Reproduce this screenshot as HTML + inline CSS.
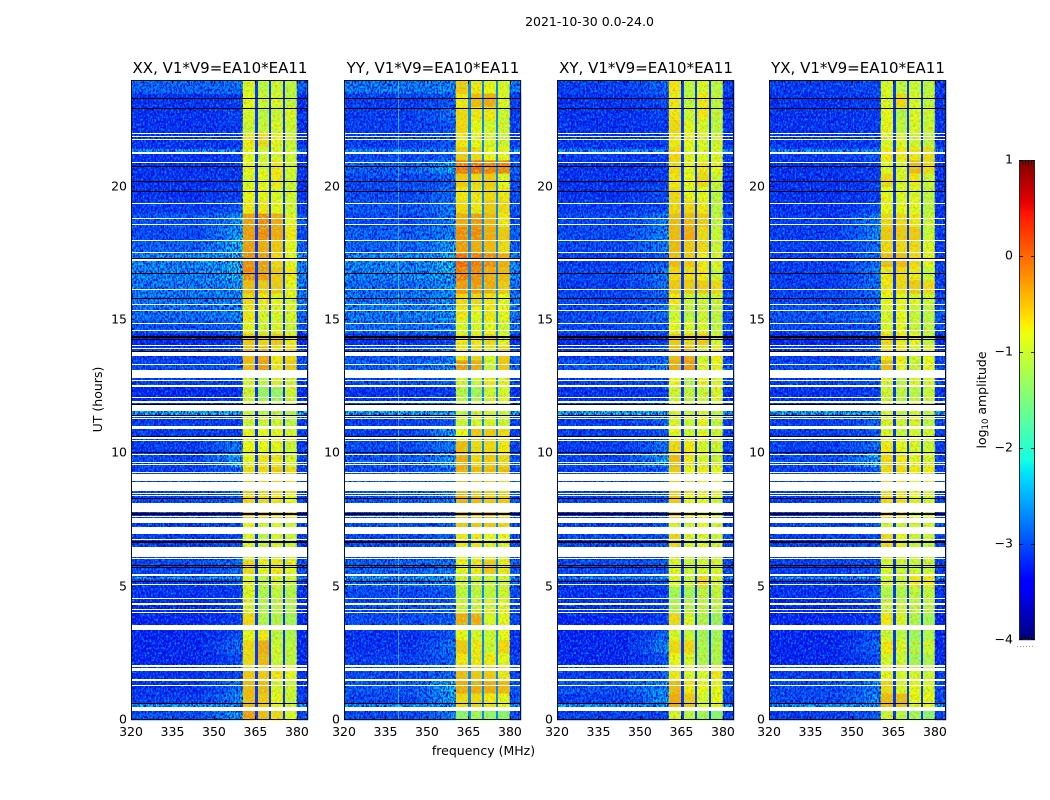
<!DOCTYPE html>
<html lang="en">
<head>
<meta charset="utf-8">
<title>2021-10-30 0.0-24.0</title>
<style>
html,body{margin:0;padding:0;background:#fff;width:1050px;height:800px;overflow:hidden}
svg{display:block}
text{font-family:"DejaVu Sans","Liberation Sans",sans-serif;fill:#000}
</style>
</head>
<body>
<svg id="figure" xmlns="http://www.w3.org/2000/svg" width="1050" height="800" viewBox="0 0 1050 800">
  <defs>
    <filter id="speckle-dark" x="0" y="0" width="1" height="1" color-interpolation-filters="sRGB">
      <feTurbulence type="fractalNoise" baseFrequency=".62 .38" numOctaves="2" seed="4"/>
      <feColorMatrix type="matrix" values="0 0 0 0 0  0 0 0 0 0  0 0 0 0 .82  3.6 0 0 0 -1.35"/>
    </filter>
    <filter id="speckle-light" x="0" y="0" width="1" height="1" color-interpolation-filters="sRGB">
      <feTurbulence type="fractalNoise" baseFrequency=".6 .42" numOctaves="2" seed="11"/>
      <feColorMatrix type="matrix" values="0 0 0 0 0  0 0 0 0 .62  0 0 0 0 1  0 3.2 0 0 -1.55"/>
    </filter>
    <filter id="speckle-warm" x="0" y="0" width="1" height="1" color-interpolation-filters="sRGB">
      <feTurbulence type="fractalNoise" baseFrequency=".45 .4" numOctaves="2" seed="7"/>
      <feColorMatrix type="matrix" values="0 0 0 0 1  0 0 0 0 .62  0 0 0 0 0  2.6 0 0 0 -1.25"/>
    </filter>
    <filter id="speckle-cool" x="0" y="0" width="1" height="1" color-interpolation-filters="sRGB">
      <feTurbulence type="fractalNoise" baseFrequency=".45 .4" numOctaves="2" seed="21"/>
      <feColorMatrix type="matrix" values="0 0 0 0 .45  0 0 0 0 1  0 0 0 0 .45  0 2.6 0 0 -1.25"/>
    </filter>
  </defs>
  <rect x="0" y="0" width="1050" height="800" fill="#fff"/>
  <text x="589.5" y="26" font-size="12.5" text-anchor="middle">2021-10-30 0.0-24.0</text>
  <text x="483.5" y="755" font-size="12.5" text-anchor="middle">frequency (MHz)</text>
  <text transform="translate(102,399.5) rotate(-90)" font-size="12.5" text-anchor="middle">UT (hours)</text>
  <text transform="translate(986,400) rotate(-90)" font-size="12.5" text-anchor="middle">log<tspan font-size="8.5" dy="2">10</tspan><tspan dy="-2"> amplitude</tspan></text>
  <g id="panels"></g>
  <g id="colorbar"></g>
</svg>
<script>
// ---- chart data ----
const panelTitles = ["XX, V1*V9=EA10*EA11", "YY, V1*V9=EA10*EA11", "XY, V1*V9=EA10*EA11", "YX, V1*V9=EA10*EA11"];
const freqTicks = [320, 335, 350, 365, 380];
const utTicks = [0, 5, 10, 15, 20];
const colorbarTicks = [1, 0, -1, -2, -3, -4];
const notchLevels = [-3.1, -2.7, -3.1, -3.1];
const bandEdges = [360.4, 364.9, 365.5, 370, 370.4, 374.9, 375.5, 380];

// log10 amplitude per half-hour of UT, bottom to top:
// [background, edge 357-360 MHz, sub-band 1, sub-band 2, sub-band 3, sub-band 4]
const xxLevels = [
[-2.9,-2.3,-.2,-.4,-.6,-.9],[-3,-2.4,-.4,-.5,-.8,-1],[-3.1,-2.6,-.4,-.4,-.9,-1],[-3.1,-2.9,-.5,-.5,-.7,-.8],
[-3.2,-2.9,-.6,-.4,-1,-1.1],[-3.2,-2.6,-.6,-.3,-1,-1.1],[-3.2,-2.9,-.8,-.7,-1.1,-1.2],[-3.2,-3,-.6,-1.2,-1.2,-1.3],
[-3.2,-3,-.9,-1.2,-1.1,-1.2],[-3.1,-3,-.9,-1.2,-1.1,-1.2],[-3,-2.8,-.8,-1.1,-.9,-1],[-2.9,-2.6,-.6,-.8,-.7,-.8],
[-3,-2.8,-1,-1,-1,-1],[-3,-2.9,-.9,-1.1,-.9,-1],[-3,-2.8,-.8,-1,-.9,-1],[-3,-2.8,-.5,-.5,-.6,-.7],
[-2.9,-2.7,-.6,-.6,-.7,-.8],[-3,-2.6,-.5,-.6,-.6,-.7],[-3,-2.7,-.6,-.6,-.5,-.6],[-2.9,-2.2,-.8,-.7,-.7,-.9],
[-3,-2.5,-.8,-.8,-.8,-1],[-3,-3,-.8,-.8,-.8,-.9],[-3,-3,-1,-1,-1,-1.1],[-3.1,-3,-1,-1.1,-1.2,-1.2],
[-3.2,-3.1,-1,-1.4,-1.4,-1],[-3,-3,-.9,-1.1,-.9,-1],[-2.9,-2.8,-.4,-.2,-.7,-.5],[-3,-2.8,-.4,-.3,-.7,-.6],
[-3.2,-3,-.5,-.6,-.5,-.7],[-2.8,-2.7,-.8,-1,-.9,-1],[-2.6,-2.4,-.7,-.9,-.9,-.9],[-2.5,-2.4,-.6,-.7,-.8,-.9],
[-2.5,-2.3,-.4,-.5,-.5,-.8],[-2.4,-2.1,-.1,-.2,-.5,-.7],[-2.4,-2,-.1,-.2,-.6,-.8],[-2.7,-2.1,-.2,-.3,-.5,-.8],
[-2.9,-2.2,-.2,-.1,-.3,-.7],[-2.8,-2.3,-.2,-.1,-.3,-.8],[-3,-2.8,-.7,-.7,-.8,-1],[-3.1,-3,-.8,-.8,-.9,-1],
[-3.1,-3,-.9,-.8,-.7,-1],[-3.1,-3,-.8,-.9,-.7,-.9],[-3.1,-3,-.8,-1,-.9,-1],[-3.1,-3,-.7,-.6,-.8,-1],
[-3.1,-3,-1,-1,-.9,-1],[-3.1,-3,-.9,-1.1,-1,-.9],[-3.1,-3,-.8,-1,-.9,-1.1],[-2.7,-2.6,-.9,-1.1,-1,-1.1]];
const yyLevels = [
[-2.9,-2.5,-1.5,-1.3,-1.4,-1.5],[-2.9,-2.2,-.6,-.6,-.7,-.8],[-2.8,-2.1,-.3,-.3,-.3,-.4],[-2.9,-2.6,-.4,-.5,-.5,-.7],
[-3,-2.7,-.7,-.7,-.7,-.8],[-3.1,-2.6,-.5,-.7,-1,-.6],[-3.1,-2.8,-.8,-.9,-1,-.8],[-2.9,-2.7,-.3,-.3,-.9,-.8],
[-2.9,-2.7,-1,-1,-.9,-.8],[-2.9,-2.8,-1.1,-1.1,-1.1,-1],[-2.6,-2.4,-1,-1,-1,-1],[-2.7,-2.5,-.8,-.7,-.5,-.7],
[-2.9,-2.8,-.9,-.9,-.9,-1],[-2.9,-2.7,-.7,-.7,-.8,-.8],[-2.9,-2.7,-.5,-.5,-.5,-.6],[-2.8,-2.5,-.4,-.5,-.4,-.6],
[-2.8,-2.5,-.3,-.4,-.5,-.5],[-2.8,-2.6,-.4,-.5,-.5,-.6],[-2.9,-2.6,-.3,-.4,-.4,-.4],[-2.8,-2.3,-.3,-.6,-.5,-.6],
[-2.9,-2.5,-.4,-.6,-.6,-.7],[-3,-2.2,-.8,-.5,-.5,-.6],[-3,-2.8,-1,-.9,-.9,-1],[-2.9,-2.7,-1.1,-1,-.9,-1],
[-3.1,-3,-1.2,-1.3,-1,-.9],[-2.9,-2.8,-1,-1,-.7,-.9],[-2.7,-2.3,-.2,-.3,-1,-.5],[-2.8,-2.5,-.7,-.6,-.9,-.5],
[-3.1,-2.9,-.7,-.7,-.6,-.8],[-2.6,-2.5,-.9,-.9,-.8,-1],[-2.5,-2.3,-.7,-.8,-.7,-.8],[-2.5,-2.3,-.6,-.6,-.7,-.8],
[-2.6,-2.3,-.2,-.2,-.3,-.5],[-2.4,-2.1,0,-.1,-.3,-.4],[-2.4,-2.1,.1,0,-.1,-.3],[-2.7,-2.2,-.2,-.3,-.4,-.6],
[-2.7,-2.4,-.1,-.1,-.3,-.5],[-2.9,-2.5,-.3,-.2,-.4,-.7],[-2.8,-2.5,-.6,-.7,-.5,-.6],[-2.9,-2.6,-.7,-.7,-.6,-.7],
[-2.9,-2.7,-.5,-.6,-.5,-.8],[-2.7,-2.2,0,.05,-.05,-.05],[-2.9,-2.7,-.5,-.6,-.8,-.8],[-3,-2.8,-.7,-.8,-.9,-1],
[-3,-2.8,-.6,-.8,-.9,-1],[-3,-2.6,-.6,-.7,-.7,-1],[-3,-2.8,-.7,-.4,-.3,-.9],[-2.5,-2.4,-.5,-.7,-.8,-.9]];
const xyLevels = [
[-3,-2.9,-.9,-1.1,-1.3,-1.5],[-3,-2.3,-.3,-.5,-.9,-.8],[-2.8,-2.3,-.4,-.7,-.8,-.8],[-3,-2.7,-.7,-.9,-.9,-.7],
[-3.2,-2.8,-.8,-.9,-1.2,-1.2],[-3.2,-2.4,-.6,-.6,-1.2,-1.2],[-3.2,-2.7,-.9,-1,-1.3,-1.3],[-3.2,-3,-.6,-.9,-1.2,-1.4],
[-3.1,-3,-1.2,-1.1,-1.1,-1.1],[-3.1,-3,-1.3,-1.3,-1.1,-1.1],[-3,-2.8,-.9,-1,-.6,-.9],[-2.9,-2.7,-.9,-1,-.9,-.9],
[-3,-3,-1,-1,-1,-1],[-2.9,-2.8,-.6,-.9,-.9,-1],[-3,-2.8,-.9,-1,-.8,-1],[-3,-2.8,-.5,-.7,-.8,-.9],
[-2.9,-2.7,-.5,-.8,-.8,-.9],[-3,-2.8,-.5,-.6,-.8,-.9],[-3,-2.8,-.5,-.8,-.7,-.8],[-2.9,-2.2,-.4,-.7,-.9,-1],
[-3,-2.6,-.6,-.7,-.9,-1],[-3,-2.8,-.8,-1,-.8,-1],[-3,-2.7,-.9,-1,-.8,-1.1],[-3,-2.9,-.9,-1.1,-1,-1.1],
[-3.1,-3,-1,-1.1,-1,-.9],[-3,-2.9,-.8,-1.2,-.8,-.9],[-2.8,-2.5,-.3,-.2,-.9,-.8],[-3,-2.7,-.4,-.3,-1,-.7],
[-3.2,-3,-.5,-.6,-.5,-.9],[-2.9,-2.8,-.8,-.9,-.9,-1.1],[-2.9,-2.6,-1,-1.1,-1,-1.1],[-2.9,-2.7,-.7,-1,-1,-1],
[-3,-2.6,-.5,-.5,-.5,-.6],[-2.9,-2.5,-.6,-.6,-.7,-1],[-3,-2.8,-.4,-.5,-.7,-.9],[-2.9,-2.5,-.4,-.5,-.6,-1],
[-2.9,-2.4,-.4,-.3,-.6,-1],[-2.9,-2.5,-.4,-.4,-.5,-1.1],[-3,-2.9,-.6,-.6,-.7,-1.1],[-3.1,-2.9,-.6,-.8,-.8,-1.1],
[-3.1,-3,-.7,-.8,-.6,-1],[-3.1,-3,-.6,-.8,-.7,-.8],[-3,-3,-.6,-.9,-.9,-.9],[-3.1,-3,-.7,-.8,-.9,-1],
[-3.1,-3,-.6,-.8,-.9,-1.1],[-3.1,-3,-.7,-1,-.7,-1.1],[-3.1,-2.9,-.7,-1.1,-.7,-1.1],[-3,-2.7,-.7,-1.1,-.9,-1.1]];
const yxLevels = [
[-3,-2.8,-1,-1.1,-1.3,-1.5],[-2.9,-2.4,-.4,-.4,-.8,-.8],[-2.9,-2.5,-.6,-.9,-.8,-.9],[-3,-2.8,-.8,-.9,-.9,-1],
[-3.2,-2.9,-.9,-1,-1.3,-1.2],[-3.2,-2.7,-.7,-.9,-1.2,-1],[-3.2,-2.8,-1,-1.1,-1.3,-1.2],[-3.2,-3,-.7,-.9,-1.2,-1.3],
[-3.2,-3,-1,-1,-1.1,-1.1],[-3.1,-2.8,-1.2,-1.2,-1.1,-1.1],[-3,-2.9,-.9,-1,-.7,-.7],[-3,-2.8,-.9,-1,-1,-1],
[-3,-3,-1,-1,-1,-1],[-3,-2.9,-.6,-.8,-1,-1],[-3,-2.8,-1,-1,-.9,-1],[-3,-2.8,-.6,-.7,-.8,-.9],
[-3,-2.8,-.6,-.7,-.8,-.9],[-3,-2.8,-.6,-.7,-.8,-.9],[-3,-2.8,-.6,-.6,-.7,-.7],[-2.9,-2.2,-.6,-.7,-.8,-.9],
[-3,-2.6,-.7,-.8,-.9,-1],[-3,-2.8,-.9,-1,-.9,-1],[-3,-2.7,-.9,-1,-.9,-1.1],[-3.1,-2.9,-1,-1.1,-1,-1.1],
[-3.1,-3,-1,-1.1,-1.1,-1],[-3,-2.9,-.9,-1.1,-.9,-.9],[-2.9,-2.6,-.4,-.8,-1,-.8],[-3,-2.7,-.7,-.7,-1,-.8],
[-3.2,-3,-.6,-.7,-.8,-1],[-2.9,-2.8,-.9,-.8,-1,-1.1],[-2.8,-2.6,-.9,-.8,-1,-1.1],[-2.9,-2.7,-.8,-.8,-.9,-1],
[-3,-2.6,-.7,-.6,-.5,-.6],[-3,-2.5,-.7,-.6,-.7,-1],[-3,-2.6,-.4,-.4,-.6,-.8],[-3,-2.6,-.6,-.6,-.6,-.9],
[-3,-2.4,-.5,-.5,-.5,-1],[-3,-2.5,-.6,-.6,-.7,-1],[-3.1,-2.9,-.8,-.8,-.8,-1.1],[-3.1,-3,-.8,-.9,-.9,-1.1],
[-3.1,-3,-.6,-.9,-.7,-1],[-3.1,-3,-.8,-.9,-.4,-.6],[-3,-2.8,-.7,-.7,-.7,-.6],[-3.1,-3,-.9,-.9,-1,-1.1],
[-3.1,-3,-.8,-1.1,-.9,-1],[-3.1,-3,-.8,-1.2,-.9,-1],[-3.1,-3,-.9,-.6,-.9,-1.1],[-3,-2.9,-.9,-1.1,-1,-1.1]];
const panelLevels = [xxLevels, yyLevels, xyLevels, yxLevels];

// UT intervals (hours) with flagged data, shown white in all panels
const flaggedSpans = [[.32,.47],[1.275,1.31],[1.47,1.54],[1.84,1.96],[2,2.06],[3.39,3.57],[4.01,4.05],[4.12,4.16],[4.33,4.37],[4.54,4.58],[5.06,5.1],[5.39,5.46],[6.05,6.09],[6.12,6.5],[6.75,6.79],[6.96,7.22],[7.37,7.56],[7.6,7.64],[7.81,8.15],[8.39,8.44],[8.49,8.53],[8.6,8.94],[8.98,9.02],[9.04,9.22],[9.26,9.3],[9.55,9.6],[9.65,9.69],[9.94,9.98],[10.46,10.5],[10.53,10.6],[10.93,10.97],[10.99,11.03],[11.27,11.31],[11.35,11.41],[11.58,11.83],[11.9,11.97],[12.09,12.13],[12.5,12.56],[12.71,12.75],[12.81,13.12],[13.31,13.35],[13.65,13.79],[13.91,13.95],[14.03,14.06],[14.58,14.62],[14.85,14.89],[15.34,15.38],[15.56,15.6],[16.13,16.16],[17.23,17.27],[17.51,17.55],[17.96,18],[18.56,18.6],[18.79,18.82],[19.35,19.39],[20.87,20.91],[21.21,21.3],[21.76,21.79],[21.86,21.9],[21.97,22.01]];
// UT intervals with zero amplitude, shown black in all panels
const zeroSpans = [[0,.04],[.6,.63],[5.21,5.23],[5.69,5.73],[5.8,5.83],[6.62,6.71],[7.68,7.77],[8.31,8.34],[10,10.04],[10.61,10.65],[11.41,11.44],[11.82,11.85],[13.8,13.84],[14.26,14.29],[14.32,14.35],[14.38,14.41],[15.79,15.83],[16.71,16.75],[17.29,17.33],[19.79,19.83],[20.16,20.2],[20.74,20.78],[22.91,22.95],[23.29,23.34]];
// UT intervals with elevated background: [start, end, log10 amplitude]
const brightSpans = [[.48,.6,-2.3],[5.29,5.38,-2.2],[11.45,11.57,-2.2],[21.3,21.42,-2.4]];

// ---- scales ----
const panelLefts = [131, 344, 557, 769];
const panelWidth = 177, plotTop = 80, plotBottom = 720;
const freqMin = 320, freqMax = 384, utMin = 0, utMax = 24, hoursPerRow = 0.5;
const cbarLeft = 1019, cbarRight = 1035, cbarTop = 160, cbarBottom = 640, cbarMin = -4, cbarMax = 1;
const xScale = (p, mhz) => panelLefts[p] + (mhz - freqMin) / (freqMax - freqMin) * panelWidth;
const yScale = ut => plotBottom - (ut - utMin) / (utMax - utMin) * (plotBottom - plotTop);
const cbarScale = v => cbarBottom - (v - cbarMin) / (cbarMax - cbarMin) * (cbarBottom - cbarTop);

// Whole-pixel extent of a UT span so thin flag lines stay crisp, at least 1px tall
function spanPixels(start, end) {
  const top = Math.round(yScale(end));
  const height = Math.max(1, Math.round(yScale(start)) - top);
  return { y: top, height: height };
}

function lerpTable(t, table) {
  for (let i = 1; i < table.length; i++) {
    if (t <= table[i][0]) {
      const a = table[i - 1], b = table[i];
      return a[1] + (b[1] - a[1]) * (t - a[0]) / (b[0] - a[0]);
    }
  }
  return table[table.length - 1][1];
}
function jet(t) {
  t = Math.max(0, Math.min(1, t));
  const r = lerpTable(t, [[0, 0], [.35, 0], [.66, 1], [.89, 1], [1, .5]]);
  const g = lerpTable(t, [[0, 0], [.125, 0], [.375, 1], [.64, 1], [.91, 0], [1, 0]]);
  const b = lerpTable(t, [[0, .5], [.11, 1], [.34, 1], [.65, 0], [1, 0]]);
  return `rgb(${Math.round(r * 255)},${Math.round(g * 255)},${Math.round(b * 255)})`;
}
const levelColor = v => jet((v - cbarMin) / (cbarMax - cbarMin));

const NS = "http://www.w3.org/2000/svg";
function make(tag, attrs, parent) {
  const el = document.createElementNS(NS, tag);
  for (const k in attrs) el.setAttribute(k, attrs[k]);
  parent.appendChild(el);
  return el;
}

const panelsRoot = document.getElementById("panels");

panelLevels.forEach((levels, p) => {
  const g = make("g", {}, panelsRoot);
  
  

  const x0 = panelLefts[p], x1 = x0 + panelWidth;

  levels.forEach((row, r) => {
    const yTop = yScale((r + 1) * hoursPerRow), yBot = yScale(r * hoursPerRow);
    const [bg, edge, s1, s2, s3, s4] = row;
    const E = bandEdges;
    const cols = [
      [freqMin, 346, bg], [346, 351, bg + (edge - bg) * .25], [351, 354.5, bg + (edge - bg) * .5], [354.5, 357.5, bg + (edge - bg) * .8], [357.5, E[0], edge],
      [E[0], E[1], s1], [E[2], E[3], s2], [E[4], E[5], s3], [E[6], E[7], s4], [E[7], freqMax, bg]
    ];
    cols.forEach(c => {
      const cx0 = xScale(p, c[0]), cx1 = xScale(p, c[1]);
      const cell = make("rect", { x: cx0, y: yTop, width: cx1 - cx0 + .3, height: yBot - yTop + .3, fill: levelColor(c[2]) }, g);
      
      
    });
  });

  brightSpans.forEach(s => {
    [[freqMin, bandEdges[0]], [bandEdges[7], freqMax]].forEach(f => {
      const rx0 = xScale(p, f[0]), rx1 = xScale(p, f[1]);
      const px = spanPixels(s[0], s[1]);
      const stripe = make("rect", { x: rx0, y: px.y, width: rx1 - rx0, height: px.height, fill: levelColor(s[2]) }, g);
      
      
    });
  });

  // receiver-noise texture overlays (decorative, carry no values)
  [[freqMin, bandEdges[0]], [bandEdges[7], freqMax]].forEach(f => {
    ["speckle-dark", "speckle-light"].forEach(id => {
      const rx0 = xScale(p, f[0]), rx1 = xScale(p, f[1]);
      const noise = make("rect", { x: rx0, y: plotTop, width: rx1 - rx0, height: plotBottom - plotTop, fill: "#000", filter: "url(#" + id + ")" }, g);
      
      
    });
  });
  [[bandEdges[0], bandEdges[1]], [bandEdges[2], bandEdges[3]], [bandEdges[4], bandEdges[5]], [bandEdges[6], bandEdges[7]]].forEach(f => {
    ["speckle-warm", "speckle-cool"].forEach(id => {
      const rx0 = xScale(p, f[0]), rx1 = xScale(p, f[1]);
      const noise = make("rect", { x: rx0, y: plotTop, width: rx1 - rx0, height: plotBottom - plotTop, fill: "#000", filter: "url(#" + id + ")" }, g);
      
      
    });
  });

  // narrow low-amplitude notches between the sub-bands
  [[bandEdges[1], bandEdges[2]], [bandEdges[3], bandEdges[4]], [bandEdges[5], bandEdges[6]]].forEach(f => {
    const nx0 = Math.round(xScale(p, f[0]));
    const nx1 = Math.max(nx0 + 1, Math.round(xScale(p, f[1])) + 1);
    const notchRect = make("rect", { x: nx0, y: plotTop, width: nx1 - nx0, height: plotBottom - plotTop, fill: levelColor(notchLevels[p]) }, g);
    
    
  });

  if (p === 1) {
    const rfi = make("rect", { x: Math.round(xScale(p, 339.7)), y: plotTop, width: 1, height: plotBottom - plotTop, fill: "#8fe", opacity: .45 }, g);
    
    
  }

  flaggedSpans.forEach(s => {
    const px = spanPixels(s[0], s[1]);
    const gap = make("rect", { x: x0, y: px.y, width: panelWidth, height: px.height, fill: "#fff" }, g);
    
    
  });
  zeroSpans.forEach(s => {
    const px = spanPixels(s[0], s[1]);
    const line = make("rect", { x: x0, y: px.y, width: panelWidth, height: px.height, fill: "#000" }, g);
    
    
  });

  const frame = make("rect", { x: x0 + .5, y: plotTop + .5, width: panelWidth - 1, height: plotBottom - plotTop - 1, fill: "none", stroke: "#111", "stroke-width": 1 }, g);
  
  

  freqTicks.forEach(f => {
    const x = Math.round(xScale(p, f)) + .5;
    [[plotBottom, plotBottom - 4], [plotTop, plotTop + 4]].forEach(t => {
      const tick = make("line", { x1: x, x2: x, y1: t[0], y2: t[1], stroke: "#000", "stroke-width": .8 }, g);
      
      
    });
    const label = make("text", { x: xScale(p, f), y: 736, "font-size": 12.5, "text-anchor": "middle" }, g);
    
    
    label.textContent = f;
  });

  utTicks.forEach(u => {
    const y = Math.round(yScale(u)) - .5;
    [[x0, x0 + 4], [x1, x1 - 4]].forEach(t => {
      const tick = make("line", { x1: t[0], x2: t[1], y1: y, y2: y, stroke: "#000", "stroke-width": .8 }, g);
      
      
    });
    const label = make("text", { x: x0 - 4, y: y + 4, "font-size": 12.5, "text-anchor": "end" }, g);
    
    
    label.textContent = u;
  });

  const title = make("text", { x: x0 + panelWidth / 2 + .5, y: 73, "font-size": 15, "text-anchor": "middle" }, g);
  
  
  title.textContent = panelTitles[p];
});

// ---- colorbar ----
const cbarRoot = document.getElementById("colorbar");
for (let y = cbarTop; y < cbarBottom; y++) {
  const v = cbarMax - (y + .5 - cbarTop) / (cbarBottom - cbarTop) * (cbarMax - cbarMin);
  const band = make("rect", { x: cbarLeft, y: y, width: cbarRight - cbarLeft, height: 1.2, fill: levelColor(v) }, cbarRoot);
  
  
}
const cbarFrame = make("rect", { x: cbarLeft + .5, y: cbarTop + .5, width: cbarRight - cbarLeft - 1, height: cbarBottom - cbarTop - 1, fill: "none", stroke: "#222", "stroke-width": 1 }, cbarRoot);


colorbarTicks.forEach(v => {
  const y = Math.round(cbarScale(v)) + .5 - (v === cbarMin ? 1 : 0);
  [[cbarLeft, cbarLeft + 4], [cbarRight, cbarRight - 4]].forEach(t => {
    const tick = make("line", { x1: t[0], x2: t[1], y1: y, y2: y, stroke: "#000", "stroke-width": .8 }, cbarRoot);
    
    
  });
  const label = make("text", { x: cbarLeft - 6, y: cbarScale(v) + 3.5, "font-size": 12.5, "text-anchor": "end" }, cbarRoot);
  
  
  label.textContent = v < 0 ? "\u2212" + Math.abs(v) : String(v);
});
[1022, 1025, 1028, 1031].forEach(x => {
  [[cbarTop, cbarTop + 5], [cbarBottom, cbarBottom - 5]].forEach(t => {
    const tick = make("line", { x1: x + .5, x2: x + .5, y1: t[0], y2: t[1], stroke: "#000", "stroke-width": .7 }, cbarRoot);
    
    
  });
});
const cbarDots = make("line", { x1: 1017, x2: 1035, y1: 646.5, y2: 646.5, stroke: "#999", "stroke-width": 1, "stroke-dasharray": "1 2" }, cbarRoot);


</script>
</body>
</html>
